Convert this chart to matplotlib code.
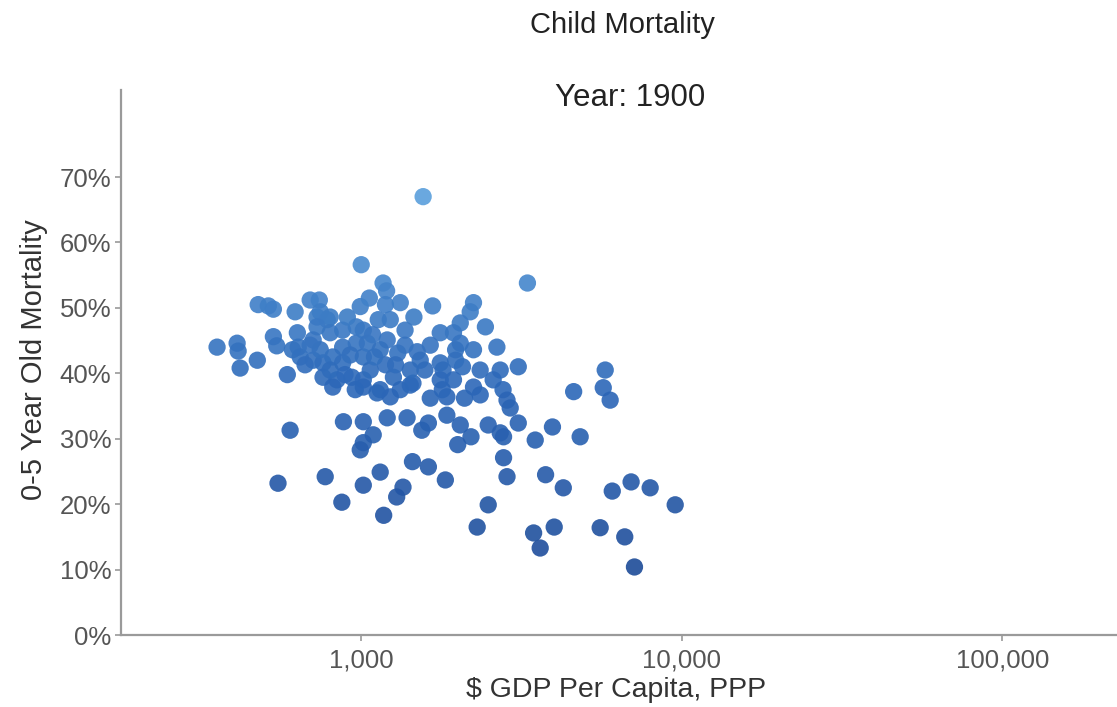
import matplotlib
matplotlib.use("Agg")
import matplotlib.pyplot as plt
from matplotlib.colors import LinearSegmentedColormap
from matplotlib.ticker import FixedLocator, FuncFormatter
import numpy as np

plt.rcParams['font.family'] = ['Liberation Sans', 'DejaVu Sans']

# GDP per capita (PPP, $) and 0-5 year old mortality (%) by country, year 1900
gdp = [
    1560, 1000, 3300, 1170, 1200, 1670,
    355, 410, 413, 419, 474, 477, 513, 532, 532, 545, 588, 600, 550,
    622, 632, 636, 610, 645, 708, 693, 740, 728, 783, 745, 800,
    728, 800, 875, 965, 905, 993, 708, 875, 965, 760, 815, 875, 1015,
    760, 840, 935, 1015, 815, 745, 668,
    1060, 1190, 1324, 1460, 2240, 2188, 2037, 2440, 1764, 1940, 2037,
    2240, 1970, 2650, 1015, 1045, 1205, 1146, 1300, 1495, 1528, 1764,
    1800, 2070, 1764, 1940, 2240, 1450, 2714, 3090, 2580, 2770, 1260,
    1067, 1015, 1146, 1324, 1232, 1370, 1130, 1085, 1280, 1370, 1642, 1580,
    1120, 1232, 1642, 1850, 2100, 2351, 2850, 1422, 1790, 1015, 1205,
    1390, 1620, 1545, 1850, 2037, 2200, 2000, 2490, 2714, 3090, 2780,
    3490, 1090, 1015, 993, 880, 1445, 1620, 1146, 1015, 772, 870, 1350,
    1290, 1175, 1830, 2300, 2490, 2780, 2850, 2916,
    4600, 5690, 5770, 5979, 3950, 4820, 3760, 4270, 6070, 6950, 7970,
    9540, 5565, 6640, 7120, 3450, 3617, 4000,
    924, 800, 890, 693, 958, 1190, 1422, 1100, 1970, 2350,
]
mortality = [
    67.0, 56.6, 53.8, 53.8, 52.6, 50.3,
    44.0, 44.6, 43.4, 40.8, 42.0, 50.5, 50.3, 49.8, 45.6, 44.2, 39.8, 31.3, 23.2,
    49.4, 46.2, 44.0, 43.6, 42.5, 42.0, 51.2, 51.2, 48.6, 48.2, 49.4, 48.6,
    47.1, 46.2, 46.6, 47.1, 48.6, 50.2, 45.1, 44.0, 44.6, 41.6, 42.5, 41.6, 42.5,
    39.4, 39.0, 39.4, 39.0, 37.9, 43.6, 41.3,
    51.5, 50.5, 50.8, 48.6, 50.8, 49.4, 47.7, 47.1, 46.2, 46.2, 44.6,
    43.6, 43.6, 44.0, 46.6, 44.6, 45.1, 43.6, 43.1, 43.3, 42.0, 41.6,
    40.5, 41.0, 39.0, 39.0, 37.9, 38.5, 40.5, 41.0, 39.0, 37.5, 39.4,
    40.5, 37.9, 37.5, 37.5, 48.2, 46.6, 48.2, 45.9, 41.3, 44.3, 44.3, 40.5,
    37.0, 36.4, 36.2, 36.4, 36.2, 36.7, 35.9, 38.2, 37.5, 32.6, 33.2,
    33.2, 32.4, 31.3, 33.6, 32.1, 30.3, 29.1, 32.1, 30.9, 32.4, 30.3,
    29.8, 30.6, 29.4, 28.3, 32.6, 26.5, 25.7, 24.9, 22.9, 24.2, 20.3, 22.6,
    21.1, 18.3, 23.7, 16.5, 19.9, 27.1, 24.2, 34.7,
    37.2, 37.8, 40.5, 35.9, 31.8, 30.3, 24.5, 22.5, 22.0, 23.4, 22.5,
    19.9, 16.4, 15.0, 10.4, 15.6, 13.3, 16.5,
    42.8, 40.5, 39.8, 44.3, 37.5, 41.3, 40.5, 42.5, 42.0, 40.5,
]

title = "Child Mortality"
subtitle = "Year: 1900"
x_label = "$ GDP Per Capita, PPP"
y_label = "0-5 Year Old Mortality"
x_ticks = [1000, 10000, 100000]
y_ticks = [0, 10, 20, 30, 40, 50, 60, 70]

gdp = np.array(gdp, dtype=float)
mortality = np.array(mortality, dtype=float)

fig = plt.figure(figsize=(11.17, 7.07), dpi=100)
ax = fig.add_axes([0.1083, 0.1018, 0.8917, 0.7709])

cmap = LinearSegmentedColormap.from_list("blues", ["#1d4b98", "#2c68b9", "#5a9fdc"])
ax.scatter(gdp, mortality, c=mortality, cmap=cmap, vmin=10, vmax=67,
           s=155, alpha=0.9, linewidths=0, zorder=3)

ax.set_xscale("log")
ax.set_xlim(178, 228000)
ax.set_ylim(0, 83.3)

ax.xaxis.set_major_locator(FixedLocator(x_ticks))
ax.xaxis.set_minor_locator(FixedLocator([]))
ax.xaxis.set_major_formatter(FuncFormatter(lambda v, p: f"{int(round(v)):,}"))
ax.yaxis.set_major_locator(FixedLocator(y_ticks))
ax.yaxis.set_major_formatter(FuncFormatter(lambda v, p: f"{int(v)}%"))

for side in ("top", "right"):
    ax.spines[side].set_visible(False)
for side in ("left", "bottom"):
    ax.spines[side].set_color("#9a9a9a")
    ax.spines[side].set_linewidth(1.6)

ax.tick_params(axis="both", colors="#9a9a9a", labelcolor="#555555",
               labelsize=18.5, length=4, width=1.2)
ax.tick_params(axis="x", pad=6)
ax.tick_params(axis="y", pad=3)

ax.set_xlabel(x_label, fontsize=20.5, color="#333333")
ax.set_ylabel(y_label, fontsize=21, color="#333333")
ax.xaxis.set_label_coords(0.497, -0.077)
ax.yaxis.set_label_coords(-0.073, 0.505)

fig.text(0.557, 0.965, title, ha="center", va="center", fontsize=21, color="#222222")
fig.text(0.564, 0.861, subtitle, ha="center", va="center", fontsize=22.5, color="#222222")

fig.savefig("out.png", dpi=100, facecolor="white")
